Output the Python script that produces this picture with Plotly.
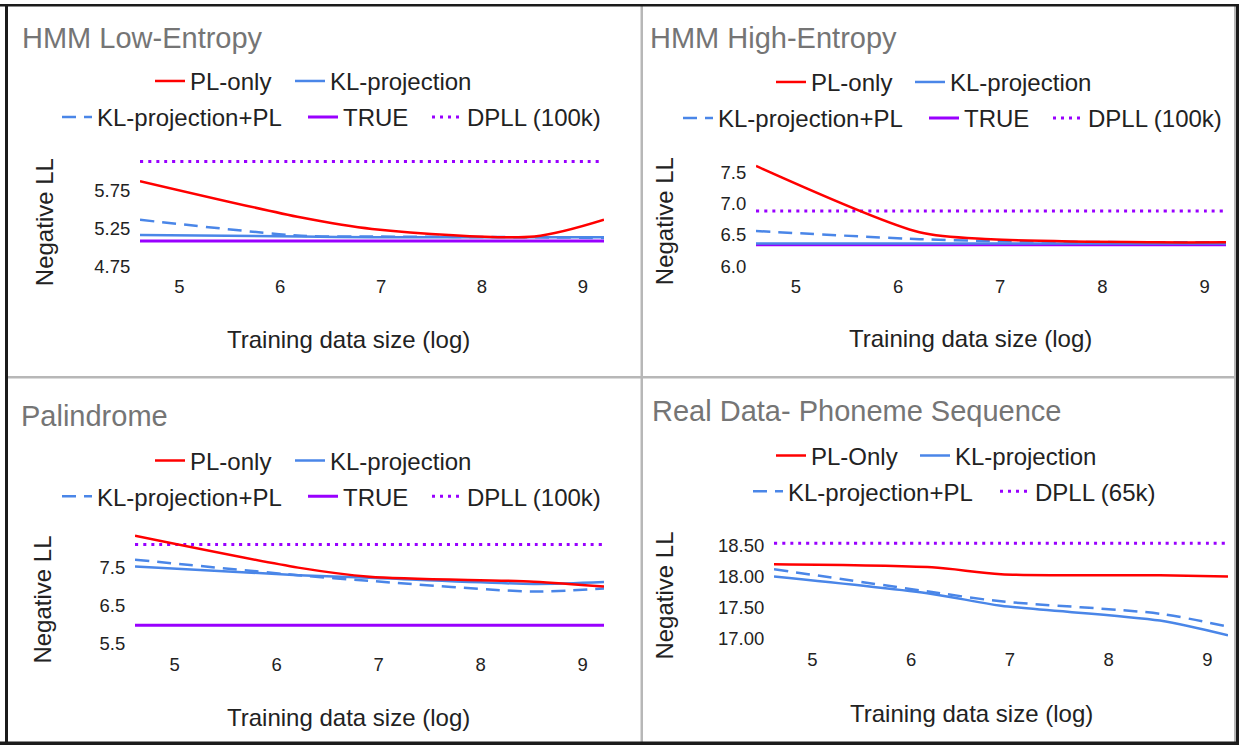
import plotly.graph_objects as go

W, H = 1239, 755
# measured vertical mapping of the photograph (page y -> picture y): y' = 3.5 + 0.983 * y
Y_OFF, Y_SCALE = 3.5, 0.983

# ---------------- data ----------------
x_log_size = [4.61, 6.21, 6.91, 8.52, 9.21]
x_ticks = [5, 6, 7, 8, 9]

names_synth = ["PL-only", "KL-projection", "KL-projection+PL", "TRUE", "DPLL (100k)"]
names_real = ["PL-Only", "KL-projection", "KL-projection+PL", "DPLL (65k)"]

low_pl_only = [5.87, 5.39, 5.24, 5.14, 5.36]
low_kl_proj = [5.16, 5.14, 5.13, 5.13, 5.13]
low_kl_proj_pl = [5.36, 5.15, 5.14, 5.13, 5.12]
low_true = [5.08, 5.08, 5.08, 5.08, 5.08]
low_dpll = [6.13, 6.13, 6.13, 6.13, 6.13]
low_yticks = [4.75, 5.25, 5.75]

high_pl_only = [7.60, 6.54, 6.43, 6.38, 6.38]
high_kl_proj = [6.36, 6.36, 6.36, 6.36, 6.36]
high_kl_proj_pl = [6.56, 6.43, 6.40, 6.38, 6.38]
high_true = [6.34, 6.34, 6.34, 6.34, 6.34]
high_dpll = [6.88, 6.88, 6.88, 6.88, 6.88]
high_yticks = [6.0, 6.5, 7.0, 7.5]

pal_pl_only = [8.34, 7.50, 7.26, 7.13, 7.00]
pal_kl_proj = [7.53, 7.30, 7.23, 7.07, 7.12]
pal_kl_proj_pl = [7.71, 7.30, 7.15, 6.87, 6.95]
pal_true = [5.98, 5.98, 5.98, 5.98, 5.98]
pal_dpll = [8.11, 8.11, 8.11, 8.11, 8.11]
pal_yticks = [5.5, 6.5, 7.5]

pho_pl_only = [18.20, 18.15, 18.04, 18.02, 18.00]
pho_kl_proj = [18.00, 17.72, 17.53, 17.29, 17.05]
pho_kl_proj_pl = [18.12, 17.75, 17.60, 17.40, 17.19]
pho_dpll = [18.54, 18.54, 18.54, 18.54, 18.54]
pho_yticks = [17.0, 17.5, 18.0, 18.5]

# ---------------- styling ----------------
FONT = "Liberation Sans, Arial, sans-serif"
RED, BLUE, PURPLE = "#ff0000", "#4a86e8", "#9900ff"
TXT = "#222222"
TITLE_C = "#757575"

STYLE = {
    "pl": dict(color=RED, width=2.5, dash="solid"),
    "kl": dict(color=BLUE, width=2.5, dash="solid"),
    "klpl": dict(color=BLUE, width=2.5, dash="14px,8px"),
    "true": dict(color=PURPLE, width=3, dash="solid"),
    "dpll": dict(color=PURPLE, width=3, dash="3px,5px"),
}


def fx(p):
    return p / W


def page_y(p):
    return min(max((p - Y_OFF) / Y_SCALE, 0), H)


def fy(p):
    return 1 - page_y(p) / H


panels = [
    dict(title="HMM Low-Entropy", title_xy=(20, 38),
         series=[("pl", names_synth[0], low_pl_only), ("kl", names_synth[1], low_kl_proj),
                 ("klpl", names_synth[2], low_kl_proj_pl), ("true", names_synth[3], low_true),
                 ("dpll", names_synth[4], low_dpll)],
         legend_xy=[(190, 81), (330, 81), (97, 117), (343, 117), (467, 117)],
         x_px=(140, 604), y_px=(266, 152), yrange=(4.75, 6.25), yticks=low_yticks, yfmt=".2f",
         ytitle=(44, 222), xtitle=(348, 340)),
    dict(title="HMM High-Entropy", title_xy=(648, 38),
         series=[("pl", names_synth[0], high_pl_only), ("kl", names_synth[1], high_kl_proj),
                 ("klpl", names_synth[2], high_kl_proj_pl), ("true", names_synth[3], high_true),
                 ("dpll", names_synth[4], high_dpll)],
         legend_xy=[(811, 82), (950, 82), (718, 118), (964, 118), (1088, 118)],
         x_px=(756, 1226), y_px=(266, 156.3), yrange=(6.0, 7.75), yticks=high_yticks, yfmt=".1f",
         ytitle=(664, 221), xtitle=(970, 339)),
    dict(title="Palindrome", title_xy=(19, 416),
         series=[("pl", names_synth[0], pal_pl_only), ("kl", names_synth[1], pal_kl_proj),
                 ("klpl", names_synth[2], pal_kl_proj_pl), ("true", names_synth[3], pal_true),
                 ("dpll", names_synth[4], pal_dpll)],
         legend_xy=[(190, 461), (330, 461), (97, 497), (343, 497), (467, 497)],
         x_px=(135, 604), y_px=(644, 530), yrange=(5.5, 8.5), yticks=pal_yticks, yfmt=".1f",
         ytitle=(43, 600), xtitle=(348, 718)),
    dict(title="Real Data- Phoneme Sequence", title_xy=(650, 411),
         series=[("pl", names_real[0], pho_pl_only), ("kl", names_real[1], pho_kl_proj),
                 ("klpl", names_real[2], pho_kl_proj_pl), ("dpll", names_real[3], pho_dpll)],
         legend_xy=[(811, 456), (955, 456), (788, 492), (1035, 492)],
         x_px=(774, 1228), y_px=(639, 539.8), yrange=(17.0, 18.6), yticks=pho_yticks, yfmt=".2f",
         ytitle=(665, 596), xtitle=(971, 714)),
]

fig = go.Figure()
layout = dict(
    width=W, height=H, margin=dict(l=0, r=0, t=0, b=0),
    paper_bgcolor="white", plot_bgcolor="white",
    font=dict(family=FONT, color=TXT),
    annotations=[], shapes=[],
)

draw_order = ["true", "dpll", "kl", "klpl", "pl"]
legend_idx = 0
for i, p in enumerate(panels):
    n = "" if i == 0 else str(i + 1)
    xa, ya = "x" + n, "y" + n
    layout["xaxis" + n] = dict(
        domain=[fx(p["x_px"][0]), fx(p["x_px"][1])], anchor=ya,
        range=[x_log_size[0], x_log_size[-1]], tickvals=x_ticks,
        showgrid=False, zeroline=False, showline=False,
        ticks="outside", ticklen=4, tickcolor="rgba(0,0,0,0)",
        tickfont=dict(size=18.5, color=TXT, family=FONT), fixedrange=True,
    )
    layout["yaxis" + n] = dict(
        domain=[fy(p["y_px"][0]), fy(p["y_px"][1])], anchor=xa,
        range=list(p["yrange"]), tickvals=p["yticks"], tickformat=p["yfmt"],
        showgrid=False, zeroline=False, showline=False,
        ticks="outside", ticklen=5, tickcolor="rgba(0,0,0,0)",
        tickfont=dict(size=18.5, color=TXT, family=FONT), fixedrange=True,
    )
    # legends: one entry each, placed where the reference puts them
    leg_ids = {}
    for (key, name, vals), (tx, ty) in zip(p["series"], p["legend_xy"]):
        legend_idx += 1
        lid = "legend" if legend_idx == 1 else "legend%d" % legend_idx
        leg_ids[key] = lid
        layout[lid] = dict(
            x=fx(tx - 40), y=fy(ty), xanchor="left", yanchor="middle",
            bgcolor="rgba(0,0,0,0)", borderwidth=0, itemwidth=30,
            font=dict(size=24, color=TXT, family=FONT), orientation="v",
        )
    ser = {s[0]: s for s in p["series"]}
    for key in draw_order:
        if key not in ser:
            continue
        _, name, vals = ser[key]
        fig.add_trace(go.Scatter(
            x=x_log_size, y=vals, name=name, mode="lines",
            line=dict(shape="spline", smoothing=0.8, **STYLE[key]),
            xaxis=xa, yaxis=ya, legend=leg_ids[key], showlegend=True,
            hoverinfo="skip",
        ))
    # titles
    layout["annotations"].append(dict(
        text=p["title"], x=fx(p["title_xy"][0]), y=fy(p["title_xy"][1]),
        xref="paper", yref="paper", xanchor="left", yanchor="middle", showarrow=False,
        font=dict(size=29, color=TITLE_C, family=FONT),
    ))
    layout["annotations"].append(dict(
        text="Negative LL", x=fx(p["ytitle"][0]), y=fy(p["ytitle"][1]), textangle=-90,
        xref="paper", yref="paper", xanchor="center", yanchor="middle", showarrow=False,
        font=dict(size=24, color=TXT, family=FONT),
    ))
    layout["annotations"].append(dict(
        text="Training data size (log)", x=fx(p["xtitle"][0]), y=fy(p["xtitle"][1]),
        xref="paper", yref="paper", xanchor="center", yanchor="middle", showarrow=False,
        font=dict(size=24, color=TXT, family=FONT),
    ))

# frame and panel dividers
BLACK = "#1b1b1b"
GRAY = "#b7b7b7"


def rect(x0, y0, x1, y1, color, raw=False):
    if raw:  # page pixels, no correction
        ya, yb = 1 - y1 / H, 1 - y0 / H
    else:
        ya, yb = fy(y1), fy(y0)
    return dict(type="rect", xref="paper", yref="paper", x0=fx(x0), x1=fx(x1),
                y0=ya, y1=yb, fillcolor=color, line=dict(width=0), layer="above")


layout["shapes"] += [
    rect(640.5, 0, 643, H, GRAY, raw=True),
    rect(8, 376, 1234, 378.5, GRAY),
    rect(1234, 0, 1236, H, GRAY, raw=True),
    rect(0, 0, W, 2.5, BLACK, raw=True),
    rect(5, 0, 8, H, BLACK, raw=True),
    rect(1236, 0, W, H, BLACK, raw=True),
    rect(0, H - 3.5, W, H, BLACK, raw=True),
]

fig.update_layout(**layout)
fig.write_html(
    "out.html",
    config={"displayModeBar": False},
    post_script="document.body.style.margin='0';document.body.style.overflow='hidden';",
)
